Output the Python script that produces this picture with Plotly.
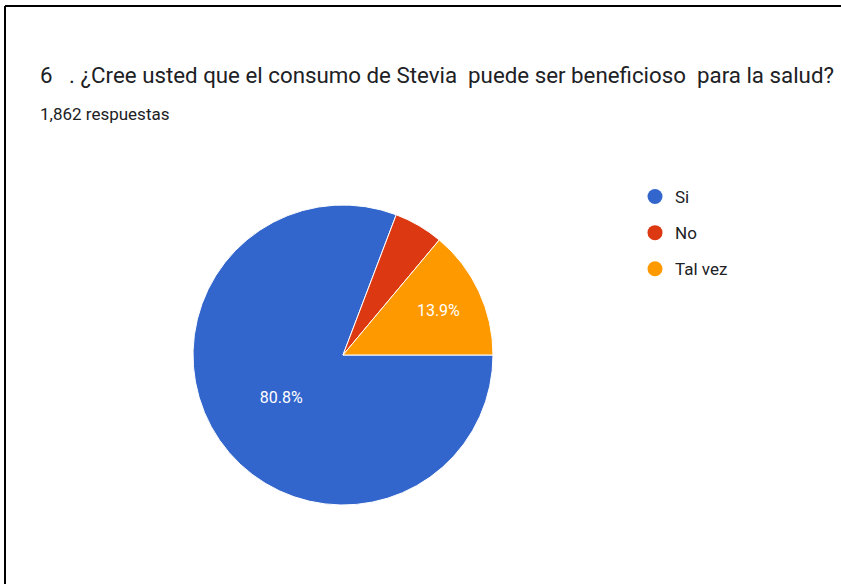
import plotly.graph_objects as go

# Survey answers (1,862 responses)
labels = ["Si", "No", "Tal vez"]
counts = [1504, 99, 259]
colors = ["#3366CC", "#DC3912", "#FF9900"]
show_pct = ["%{percent:.1%}", "", "%{percent:.1%}"]

title = "6   . ¿Cree usted que el consumo de Stevia  puede ser beneficioso  para la salud?"
subtitle = "1,862 respuestas"

FONT = "Roboto, Arial, sans-serif"
W, H = 841, 584

fig = go.Figure()
fig.add_trace(go.Pie(
    labels=labels, values=counts,
    marker=dict(colors=colors, line=dict(color="white", width=1)),
    sort=False, direction="clockwise", rotation=90,
    texttemplate=show_pct, textposition="inside",
    insidetextfont=dict(family=FONT, size=16, color="white"),
    showlegend=False,
    domain=dict(x=[193 / W, 493 / W], y=[(H - 505) / H, (H - 205) / H]),
))

# legend with round markers
for lab, col in zip(labels, colors):
    fig.add_trace(go.Scatter(
        x=[None], y=[None], mode="markers", name=lab, legendgroup=lab,
        marker=dict(symbol="circle", size=15, color=col),
    ))

fig.update_layout(
    width=W, height=H,
    margin=dict(l=0, r=0, t=0, b=0),
    paper_bgcolor="white", plot_bgcolor="white",
    font=dict(family=FONT, color="#202124"),
    xaxis=dict(visible=False), yaxis=dict(visible=False),
    legend=dict(
        x=635 / W, y=1 - 179 / H, xanchor="left", yanchor="top",
        font=dict(family=FONT, size=17, color="#202124"),
        tracegroupgap=11, bgcolor="rgba(0,0,0,0)",
    ),
    annotations=[
        dict(text=title, x=38 / W, y=1 - 90 / H, xref="paper", yref="paper",
             xanchor="left", yanchor="bottom", showarrow=False,
             font=dict(family=FONT, size=22.3, color="#202124")),
        dict(text=subtitle, x=38 / W, y=1 - 126 / H, xref="paper", yref="paper",
             xanchor="left", yanchor="bottom", showarrow=False,
             font=dict(family=FONT, size=17, color="#202124")),
    ],
    shapes=[
        dict(type="line", xref="paper", yref="paper", x0=5 / W, x1=1, y0=1 - 6 / H, y1=1 - 6 / H,
             line=dict(color="black", width=2)),
        dict(type="line", xref="paper", yref="paper", x0=5 / W, x1=5 / W, y0=0, y1=1 - 6 / H,
             line=dict(color="black", width=2)),
    ],
)

fig.write_html("out.html", config={"displayModeBar": False},
               post_script="document.body.style.margin='0';")
